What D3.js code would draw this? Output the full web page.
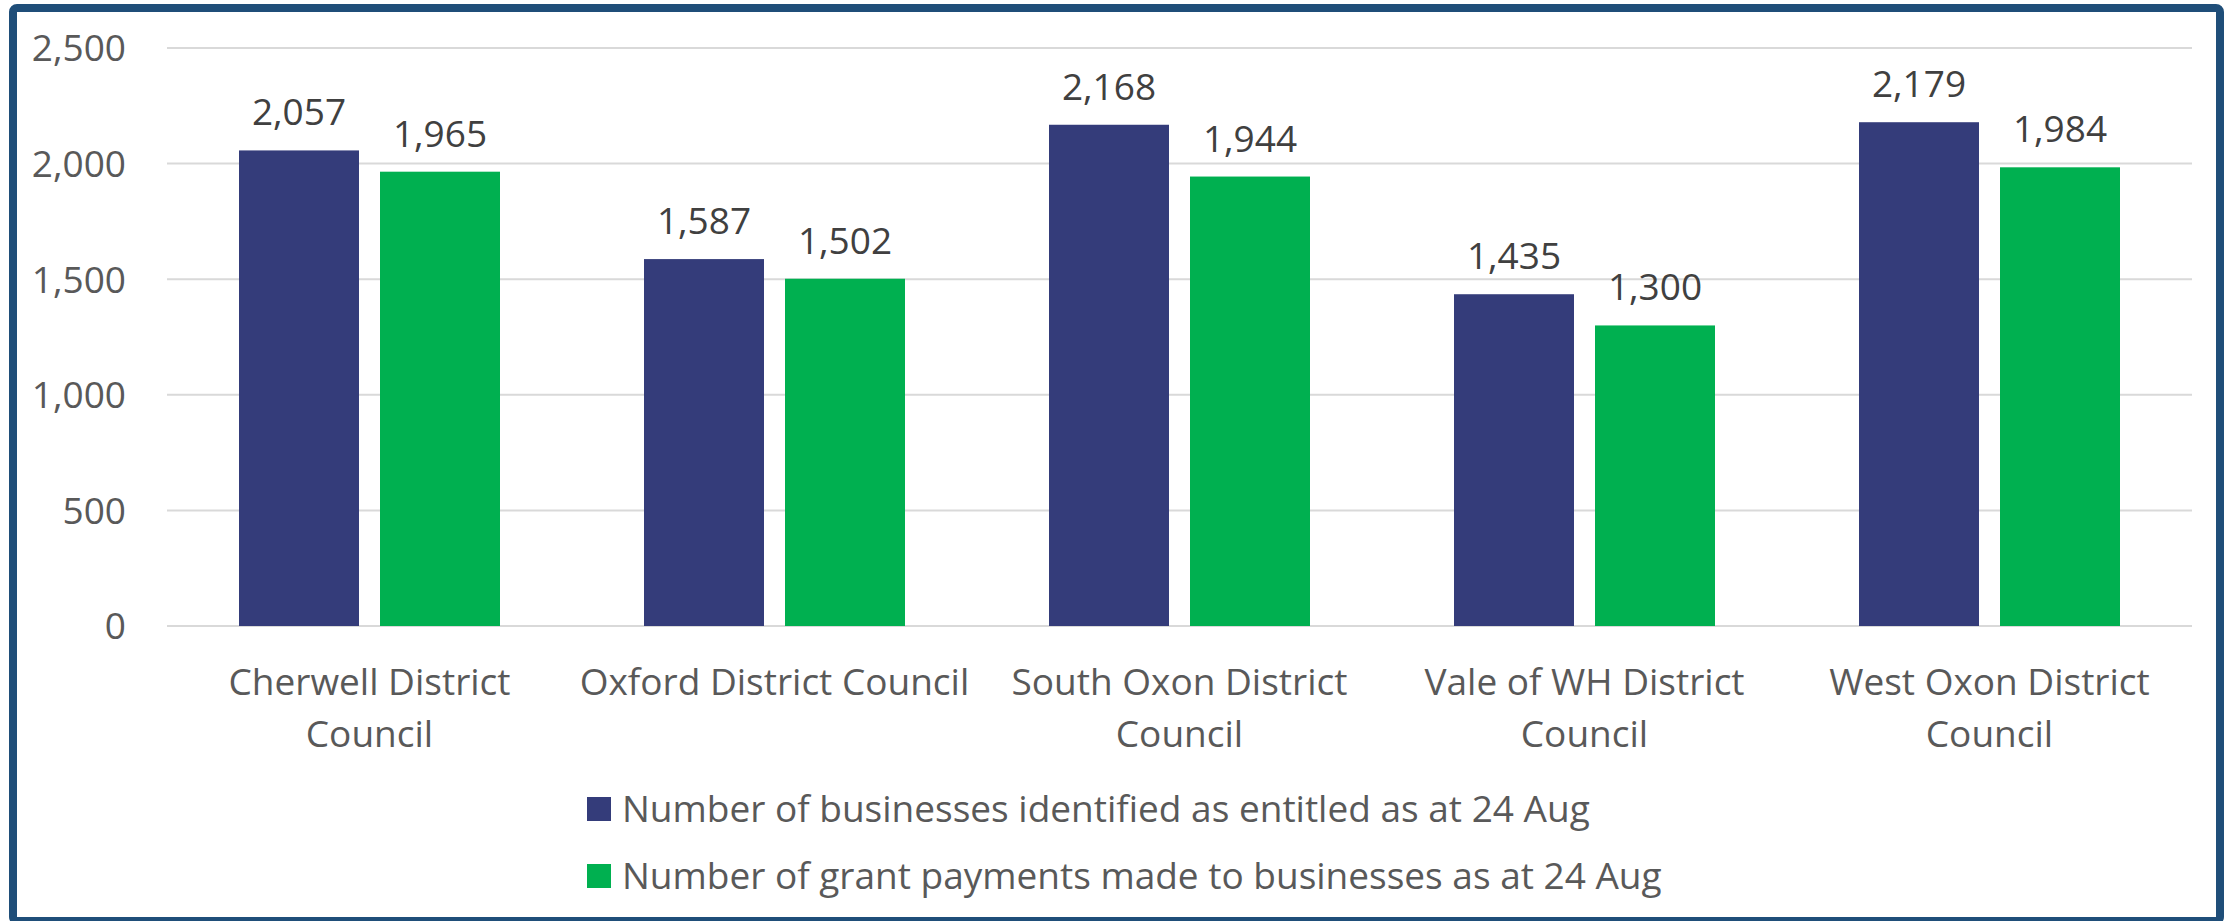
<!DOCTYPE html>
<html>
<head>
<meta charset="utf-8">
<title>Business grants by district</title>
<script src="https://cdn.jsdelivr.net/npm/d3@7/dist/d3.min.js"></script>
<style>
  html, body { margin: 0; padding: 0; background: #fff; }
  svg { display: block; font-family: "Open Sans", "Noto Sans", sans-serif; }
  .grid line { stroke: #d9d9d9; stroke-width: 2; }
  .tick-label { fill: #595959; font-size: 37px; }
  .cat-label { fill: #595959; font-size: 37px; }
  .value-label { fill: #404040; font-size: 37px; }
  .legend-label { fill: #595959; font-size: 37px; }
</style>
</head>
<body>
<div id="chart"></div>
<script>
"use strict";

// data
var categories = [
  "Cherwell District Council",
  "Oxford District Council",
  "South Oxon District Council",
  "Vale of WH District Council",
  "West Oxon District Council"
];
// how Excel wrapped the axis labels
var categoryLines = [
  ["Cherwell District", "Council"],
  ["Oxford District Council"],
  ["South Oxon District", "Council"],
  ["Vale of WH District", "Council"],
  ["West Oxon District", "Council"]
];
var seriesNames = [
  "Number of businesses identified as entitled as at 24 Aug",
  "Number of grant payments made to businesses as at 24 Aug"
];
var entitled = [2057, 1587, 2168, 1435, 2179];
var paid = [1965, 1502, 1944, 1300, 1984];
var yTicks = [0, 500, 1000, 1500, 2000, 2500];
var colors = ["#343c7a", "#00b050"];

(function () {
  var width = 2226, height = 921;
  var plot = { left: 167, right: 2192, top: 48, bottom: 626 };

  var svg = d3.select("#chart").append("svg")
    .attr("width", width)
    .attr("height", height);

  // outer frame
  svg.append("rect")
    .attr("x", 13).attr("y", 8)
    .attr("width", 2207).attr("height", 913)
    .attr("rx", 4)
    .attr("fill", "#fff")
    .attr("stroke", "#1f4e79")
    .attr("stroke-width", 8);

  var x = d3.scaleBand().domain(categories).range([plot.left, plot.right]);
  var groupWidth = 261;
  var xs = d3.scaleBand().domain(seriesNames).range([0, groupWidth]).paddingInner(21 / 141);
  var y = d3.scaleLinear().domain([0, 2500]).range([plot.bottom, plot.top]);
  var fmt = d3.format(",");

  // gridlines
  var grid = svg.append("g").attr("class", "grid");
  grid.selectAll("line").data(yTicks).enter().append("line")
    .attr("x1", plot.left).attr("x2", plot.right)
    .attr("y1", function (d) { return y(d); })
    .attr("y2", function (d) { return y(d); });

  // y tick labels
  svg.append("g").selectAll("text").data(yTicks).enter().append("text")
    .attr("class", "tick-label")
    .attr("x", 126)
    .attr("y", function (d) { return y(d); })
    .attr("dy", "0.36em")
    .attr("text-anchor", "end")
    .text(function (d) { return fmt(d); });

  var rows = categories.map(function (c, i) {
    return { cat: c, values: [entitled[i], paid[i]] };
  });

  var groups = svg.append("g").selectAll("g").data(rows).enter().append("g")
    .attr("transform", function (d) {
      return "translate(" + (x(d.cat) + (x.bandwidth() - groupWidth) / 2) + ",0)";
    });

  var bars = groups.selectAll("g").data(function (d) {
    return d.values.map(function (v, j) { return { name: seriesNames[j], value: v, j: j }; });
  }).enter().append("g");

  bars.append("rect")
    .attr("x", function (d) { return xs(d.name); })
    .attr("width", xs.bandwidth())
    .attr("y", function (d) { return y(d.value); })
    .attr("height", function (d) { return y(0) - y(d.value); })
    .attr("fill", function (d) { return colors[d.j]; });

  bars.append("text")
    .attr("class", "value-label")
    .attr("x", function (d) { return xs(d.name) + xs.bandwidth() / 2; })
    .attr("y", function (d) { return y(d.value) - 25; })
    .attr("text-anchor", "middle")
    .text(function (d) { return fmt(d.value); });

  // category labels, wrapped like the original
  var cats = svg.append("g").selectAll("text").data(categories).enter().append("text")
    .attr("class", "cat-label")
    .attr("text-anchor", "middle")
    .attr("x", function (d) { return x(d) + x.bandwidth() / 2; })
    .attr("y", 695);
  cats.each(function (d, i) {
    var t = d3.select(this);
    categoryLines[i].forEach(function (line, k) {
      t.append("tspan")
        .attr("x", x(d) + x.bandwidth() / 2)
        .attr("dy", k === 0 ? 0 : 52)
        .text(line);
    });
  });

  // legend
  var legend = svg.append("g").selectAll("g").data(seriesNames).enter().append("g")
    .attr("transform", function (d, i) { return "translate(587," + (809 + i * 67) + ")"; });
  legend.append("rect")
    .attr("x", 0).attr("y", -12)
    .attr("width", 24).attr("height", 24)
    .attr("fill", function (d, i) { return colors[i]; });
  legend.append("text")
    .attr("class", "legend-label")
    .attr("x", 35)
    .attr("dy", "0.36em")
    .text(function (d) { return d; });
})();
</script>
</body>
</html>
